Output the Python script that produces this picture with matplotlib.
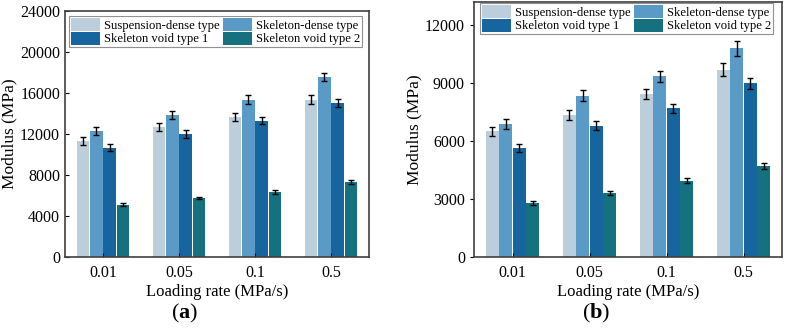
import matplotlib
matplotlib.use("Agg")
import matplotlib.pyplot as plt
import numpy as np

plt.rcParams['font.family'] = ['Liberation Serif', 'DejaVu Serif']
plt.rcParams['mathtext.fontset'] = 'custom'
plt.rcParams['mathtext.rm'] = 'Liberation Serif'
plt.rcParams['mathtext.bf'] = 'Liberation Serif:bold'

categories = ["0.01", "0.05", "0.1", "0.5"]
series_names = ["Suspension-dense type", "Skeleton-dense type",
                "Skeleton void type 1", "Skeleton void type 2"]

# Panel (a)
a_susp = [11300, 12700, 13650, 15350]
a_dense = [12300, 13850, 15350, 17550]
a_void1 = [10650, 12000, 13300, 15000]
a_void2 = [5100, 5750, 6350, 7350]
a_susp_err = [400, 420, 400, 450]
a_dense_err = [350, 420, 450, 400]
a_void1_err = [330, 350, 350, 380]
a_void2_err = [150, 130, 200, 200]

# Panel (b)
b_susp = [6500, 7350, 8450, 9700]
b_dense = [6900, 8350, 9350, 10800]
b_void1 = [5650, 6800, 7700, 9000]
b_void2 = [2800, 3300, 3950, 4700]
b_susp_err = [230, 250, 270, 330]
b_dense_err = [260, 280, 300, 370]
b_void1_err = [200, 230, 240, 280]
b_void2_err = [120, 110, 130, 160]

colors = ["#bccedc", "#5a9ac7", "#17659e", "#15717f"]

fig = plt.figure(figsize=(7.87, 3.31), dpi=100)
axA = fig.add_axes([65/787, 1-257/331, 304/787, 246/331])
axB = fig.add_axes([474/787, 1-257/331, 308/787, 255/331])

def draw(ax, vals, errs, ymax, yticks, tickdir):
    x = np.arange(len(categories))
    w = 0.175
    handles = []
    for i, (v, e) in enumerate(zip(vals, errs)):
        b = ax.bar(x + (i - 1.5) * w, v, width=w * 0.95, color=colors[i],
                   label=series_names[i], yerr=e, capsize=2.5,
                   error_kw=dict(elinewidth=1.0, capthick=1.0, ecolor='black'))
        handles.append(b)
    ax.set_xlim(-0.5, 3.5)
    ax.set_ylim(0, ymax)
    ax.set_xticks(x)
    ax.set_xticklabels(categories)
    ax.set_yticks(yticks)
    ax.tick_params(axis='x', direction='in', length=3, labelsize=11.5, pad=6)
    ax.tick_params(axis='y', direction=tickdir, length=3, labelsize=11.5)
    for s in ax.spines.values():
        s.set_color('#404040')
        s.set_linewidth(1.2)
    ax.set_xlabel("Loading rate (MPa/s)", fontsize=12, labelpad=2)
    ax.set_ylabel("Modulus (MPa)", fontsize=12.5, labelpad=2)
    return handles

hA = draw(axA, [a_susp, a_dense, a_void1, a_void2],
          [a_susp_err, a_dense_err, a_void1_err, a_void2_err],
          24000, np.arange(0, 24001, 4000), 'in')
hB = draw(axB, [b_susp, b_dense, b_void1, b_void2],
          [b_susp_err, b_dense_err, b_void1_err, b_void2_err],
          13200, np.arange(0, 12001, 3000), 'out')

order = [0, 2, 1, 3]
leg_kw = dict(ncol=2, fontsize=9.1, handlelength=2.3, handleheight=1.2,
              handletextpad=0.3, columnspacing=0.3, labelspacing=0.0,
              borderpad=0.15, borderaxespad=0, fancybox=False,
              edgecolor='#909090', framealpha=1, loc='upper left')
lA = axA.legend([hA[i] for i in order], [series_names[i] for i in order],
                bbox_to_anchor=(0.013, 0.98), **leg_kw)
lB = axB.legend([hB[i] for i in order], [series_names[i] for i in order],
                bbox_to_anchor=(0.02, 0.996), **leg_kw)
for l in (lA, lB):
    l.get_frame().set_linewidth(0.8)

fig.text(185/787, 1-313/331, r"($\mathbf{a}$)", ha='center', va='center', fontsize=16)
fig.text(596/787, 1-313/331, r"($\mathbf{b}$)", ha='center', va='center', fontsize=16)

fig.savefig("out.png", dpi=100)
